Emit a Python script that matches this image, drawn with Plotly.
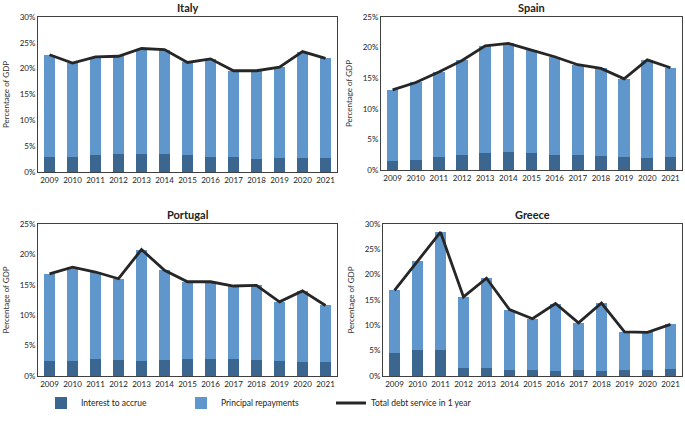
import plotly.graph_objects as go

years = [str(y) for y in range(2009, 2022)]
countries = ["Italy", "Spain", "Portugal", "Greece"]

total = {
    "Italy":    [22.7, 21.1, 22.3, 22.4, 23.9, 23.7, 21.2, 21.9, 19.6, 19.6, 20.3, 23.3, 22.0],
    "Spain":    [13.1, 14.3, 16.0, 17.9, 20.3, 20.7, 19.6, 18.5, 17.2, 16.6, 14.9, 18.0, 16.7],
    "Portugal": [16.8, 17.9, 17.1, 16.0, 20.8, 17.4, 15.5, 15.5, 14.8, 14.9, 12.2, 14.0, 11.6],
    "Greece":   [16.9, 22.6, 28.4, 15.6, 19.3, 13.1, 11.3, 14.3, 10.5, 14.4, 8.7, 8.6, 10.2],
}
interest = {
    "Italy":    [2.9, 3.0, 3.2, 3.4, 3.5, 3.4, 3.2, 3.0, 2.9, 2.6, 2.8, 2.7, 2.8],
    "Spain":    [1.4, 1.7, 2.1, 2.5, 2.8, 2.9, 2.8, 2.4, 2.5, 2.3, 2.1, 2.0, 2.2],
    "Portugal": [2.5, 2.5, 2.8, 2.6, 2.5, 2.7, 2.8, 2.8, 2.8, 2.6, 2.5, 2.3, 2.3],
    "Greece":   [4.6, 5.1, 5.2, 1.5, 1.5, 1.2, 1.1, 0.9, 1.2, 1.0, 1.1, 1.2, 1.3],
}
ymax = {"Italy": 30, "Spain": 25, "Portugal": 25, "Greece": 30}

W, H = 685, 422
# plot areas in pixels (left, right, top, bottom)
boxes = {
    "Italy":    (38, 337, 17, 172),
    "Spain":    (381, 682, 17, 170),
    "Portugal": (38, 337, 224, 376),
    "Greece":   (383, 682, 224, 376),
}

c_int = "#3a6690"
c_pr = "#5f97cd"
c_line = "#262626"
font = "Lato"
tick_size = 8

fig = go.Figure()
leg_common = dict(orientation="h", xanchor="left", y=1 - 403 / H, yanchor="middle",
                  font=dict(size=8.5, color="#222222"), bgcolor="rgba(0,0,0,0)")
layout = dict(
    width=W, height=H, autosize=False, margin=dict(l=0, r=0, t=0, b=0, autoexpand=False),
    paper_bgcolor="white", plot_bgcolor="white",
    barmode="stack", bargap=0.5,
    font=dict(family=font, size=9, color="#333333"),
    showlegend=True,
    legend=dict(x=41 / W, **leg_common),
    legend2=dict(x=181 / W, **leg_common),
    legend3=dict(x=331 / W, **leg_common),
)
annotations = []
for i, c in enumerate(countries):
    n = "" if i == 0 else str(i + 1)
    l, r, t, b = boxes[c]
    xa = "x" + n
    ya = "y" + n
    principal = [round(tt - ii, 2) for tt, ii in zip(total[c], interest[c])]
    first = i == 0
    fig.add_trace(go.Bar(x=years, y=interest[c], name="Interest to accrue", marker_color=c_int,
                         marker_line_width=0, xaxis=xa, yaxis=ya, legend="legend",
                         legendgroup="a", showlegend=first))
    fig.add_trace(go.Bar(x=years, y=principal, name="Principal repayments", marker_color=c_pr,
                         marker_line_width=0, xaxis=xa, yaxis=ya, legend="legend2",
                         legendgroup="b", showlegend=first))
    fig.add_trace(go.Scatter(x=years, y=total[c], name="Total debt service in 1 year", mode="lines",
                             line=dict(color=c_line, width=2.8), xaxis=xa, yaxis=ya,
                             legend="legend3", legendgroup="c", showlegend=first))
    layout["xaxis" + n] = dict(domain=[l / W, r / W], anchor=ya, showline=True, mirror=True,
                               linecolor="#404040", linewidth=1, showgrid=False, ticks="",
                               automargin=False,
                               tickfont=dict(size=tick_size, color="#222222"), tickangle=0)
    layout["yaxis" + n] = dict(domain=[1 - b / H, 1 - t / H], anchor=xa, range=[0, ymax[c]],
                               dtick=5, ticksuffix="%", showline=True, mirror=True,
                               linecolor="#404040", linewidth=1, showgrid=False, ticks="",
                               automargin=False,
                               tickfont=dict(size=tick_size, color="#222222"),
                               title=dict(text="Percentage of GDP", font=dict(size=8, color="#333333"),
                                          standoff=8))
    annotations.append(dict(text="<b>" + c + "</b>", x=(l + r) / 2 / W, y=1 - (t - 10) / H,
                            xref="paper", yref="paper", showarrow=False,
                            font=dict(size=11, color="#222222"), xanchor="center", yanchor="middle"))
layout["annotations"] = annotations
fig.update_layout(**layout)
fig.write_html("out.html", config={"displayModeBar": False},
               post_script="document.body.style.margin='0';document.body.style.overflow='hidden';")
